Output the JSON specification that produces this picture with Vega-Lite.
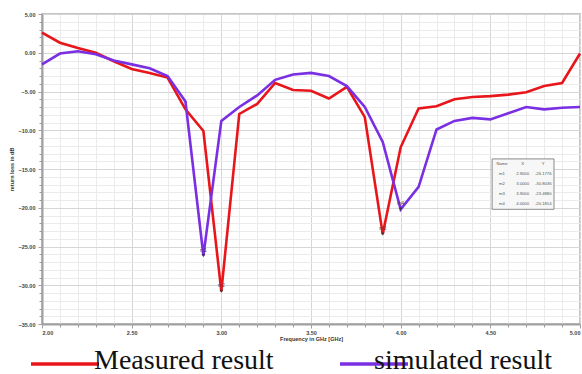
{
  "$schema": "https://vega.github.io/schema/vega-lite/v6.json",
  "width": 538,
  "height": 310,
  "autosize": {"type": "none"},
  "padding": {"left": 42, "top": 14, "right": 2, "bottom": 50},
  "background": "white",
  "config": {
    "view": {"stroke": "#c4c4c4", "strokeWidth": 2},
    "font": "Liberation Sans"
  },
  "datasets": {
    "curves": [
      {"f": 2.0, "dB": 2.6, "series": "Measured result"},
      {"f": 2.1, "dB": 1.3, "series": "Measured result"},
      {"f": 2.2, "dB": 0.6, "series": "Measured result"},
      {"f": 2.3, "dB": 0.0, "series": "Measured result"},
      {"f": 2.4, "dB": -1.1, "series": "Measured result"},
      {"f": 2.5, "dB": -2.1, "series": "Measured result"},
      {"f": 2.6, "dB": -2.6, "series": "Measured result"},
      {"f": 2.7, "dB": -3.2, "series": "Measured result"},
      {"f": 2.8, "dB": -7.3, "series": "Measured result"},
      {"f": 2.9, "dB": -10.1, "series": "Measured result"},
      {"f": 3.0, "dB": -30.8, "series": "Measured result"},
      {"f": 3.1, "dB": -7.9, "series": "Measured result"},
      {"f": 3.2, "dB": -6.6, "series": "Measured result"},
      {"f": 3.3, "dB": -3.9, "series": "Measured result"},
      {"f": 3.4, "dB": -4.8, "series": "Measured result"},
      {"f": 3.5, "dB": -4.9, "series": "Measured result"},
      {"f": 3.6, "dB": -5.9, "series": "Measured result"},
      {"f": 3.7, "dB": -4.4, "series": "Measured result"},
      {"f": 3.8, "dB": -8.3, "series": "Measured result"},
      {"f": 3.9, "dB": -23.4, "series": "Measured result"},
      {"f": 4.0, "dB": -12.2, "series": "Measured result"},
      {"f": 4.1, "dB": -7.2, "series": "Measured result"},
      {"f": 4.2, "dB": -6.9, "series": "Measured result"},
      {"f": 4.3, "dB": -6.0, "series": "Measured result"},
      {"f": 4.4, "dB": -5.7, "series": "Measured result"},
      {"f": 4.5, "dB": -5.6, "series": "Measured result"},
      {"f": 4.6, "dB": -5.4, "series": "Measured result"},
      {"f": 4.7, "dB": -5.1, "series": "Measured result"},
      {"f": 4.8, "dB": -4.3, "series": "Measured result"},
      {"f": 4.9, "dB": -3.9, "series": "Measured result"},
      {"f": 5.0, "dB": -0.1, "series": "Measured result"},
      {"f": 2.0, "dB": -1.5, "series": "simulated result"},
      {"f": 2.1, "dB": -0.1, "series": "simulated result"},
      {"f": 2.2, "dB": 0.2, "series": "simulated result"},
      {"f": 2.3, "dB": -0.2, "series": "simulated result"},
      {"f": 2.4, "dB": -1.0, "series": "simulated result"},
      {"f": 2.5, "dB": -1.5, "series": "simulated result"},
      {"f": 2.6, "dB": -2.0, "series": "simulated result"},
      {"f": 2.7, "dB": -3.0, "series": "simulated result"},
      {"f": 2.8, "dB": -6.3, "series": "simulated result"},
      {"f": 2.9, "dB": -26.18, "series": "simulated result"},
      {"f": 3.0, "dB": -8.8, "series": "simulated result"},
      {"f": 3.1, "dB": -7.0, "series": "simulated result"},
      {"f": 3.2, "dB": -5.5, "series": "simulated result"},
      {"f": 3.3, "dB": -3.5, "series": "simulated result"},
      {"f": 3.4, "dB": -2.8, "series": "simulated result"},
      {"f": 3.5, "dB": -2.6, "series": "simulated result"},
      {"f": 3.6, "dB": -3.0, "series": "simulated result"},
      {"f": 3.7, "dB": -4.3, "series": "simulated result"},
      {"f": 3.8, "dB": -7.0, "series": "simulated result"},
      {"f": 3.9, "dB": -11.5, "series": "simulated result"},
      {"f": 4.0, "dB": -20.2, "series": "simulated result"},
      {"f": 4.1, "dB": -17.3, "series": "simulated result"},
      {"f": 4.2, "dB": -9.9, "series": "simulated result"},
      {"f": 4.3, "dB": -8.8, "series": "simulated result"},
      {"f": 4.4, "dB": -8.4, "series": "simulated result"},
      {"f": 4.5, "dB": -8.6, "series": "simulated result"},
      {"f": 4.6, "dB": -7.8, "series": "simulated result"},
      {"f": 4.7, "dB": -7.0, "series": "simulated result"},
      {"f": 4.8, "dB": -7.3, "series": "simulated result"},
      {"f": 4.9, "dB": -7.1, "series": "simulated result"},
      {"f": 5.0, "dB": -7.0, "series": "simulated result"}
    ],
    "markers": [
      {"name": "m1", "f": 2.9, "dB": -26.1776},
      {"name": "m2", "f": 3.0, "dB": -30.8},
      {"name": "m3", "f": 3.9, "dB": -23.4},
      {"name": "m4", "f": 4.0, "dB": -20.19}
    ]
  },
  "layer": [
    {
      "data": {"name": "curves"},
      "mark": {"type": "line", "opacity": 0},
      "encoding": {
        "x": {
          "field": "f", "type": "quantitative",
          "scale": {"domain": [2, 5], "nice": false},
          "axis": {
            "orient": "bottom",
            "values": [2.0,2.1,2.2,2.3,2.4,2.5,2.6,2.7,2.8,2.9,3.0,3.1,3.2,3.3,3.4,3.5,3.6,3.7,3.8,3.9,4.0,4.1,4.2,4.3,4.4,4.5,4.6,4.7,4.8,4.9,5.0],
            "grid": true, "gridColor": "#ebebeb", "gridWidth": 1,
            "labels": false, "domain": false, "ticks": true, "tickSize": 3, "tickColor": "#9a9a9a", "title": null
          }
        },
        "y": {
          "field": "dB", "type": "quantitative",
          "scale": {"domain": [-35, 5], "nice": false, "zero": false},
          "axis": {
            "orient": "left",
            "values": [5,4,3,2,1,0,-1,-2,-3,-4,-5,-6,-7,-8,-9,-10,-11,-12,-13,-14,-15,-16,-17,-18,-19,-20,-21,-22,-23,-24,-25,-26,-27,-28,-29,-30,-31,-32,-33,-34,-35],
            "grid": true, "gridColor": "#ebebeb", "gridWidth": 1,
            "labels": false, "domain": false, "ticks": true, "tickSize": 3, "tickColor": "#9a9a9a", "title": null
          }
        },
        "detail": {"field": "series"}
      }
    },
    {
      "data": {"name": "curves"},
      "mark": {"type": "line", "strokeWidth": 2.6},
      "encoding": {
        "x": {
          "field": "f", "type": "quantitative",
          "scale": {"domain": [2, 5], "nice": false},
          "axis": {
            "orient": "bottom",
            "values": [2.0, 2.5, 3.0, 3.5, 4.0, 4.5, 5.0],
            "format": ".2f",
            "grid": true, "gridColor": "#d6d6d6", "gridWidth": 1,
            "domainColor": "#a0a0a0", "domainWidth": 2,
            "tickColor": "#a0a0a0", "tickSize": 4,
            "labelFontSize": 5.5, "labelFontWeight": "bold", "labelColor": "#444", "labelPadding": 2,
            "title": "Frequency in GHz [GHz]", "titleFontSize": 5.5, "titleFontWeight": "bold", "titleColor": "#333", "titlePadding": 1
          }
        },
        "y": {
          "field": "dB", "type": "quantitative",
          "scale": {"domain": [-35, 5], "nice": false, "zero": false},
          "axis": {
            "orient": "left",
            "values": [5, 0, -5, -10, -15, -20, -25, -30, -35],
            "format": ".2f",
            "grid": true, "gridColor": "#d6d6d6", "gridWidth": 1,
            "domainColor": "#a0a0a0", "domainWidth": 2,
            "tickColor": "#a0a0a0", "tickSize": 4,
            "labelFontSize": 5.5, "labelFontWeight": "bold", "labelColor": "#444", "labelPadding": 3,
            "title": "return loss in dB", "titleFontSize": 5.5, "titleFontWeight": "bold", "titleColor": "#333", "titlePadding": 4
          }
        },
        "color": {
          "field": "series", "type": "nominal",
          "scale": {"domain": ["Measured result", "simulated result"], "range": ["#e8161b", "#7a2fe2"]},
          "legend": {
            "orient": "none", "legendX": -13, "legendY": 314,
            "direction": "horizontal", "title": null,
            "symbolType": "stroke", "symbolSize": 4624, "symbolStrokeWidth": 3.5,
            "labelFont": "Liberation Serif", "labelFontSize": 28, "labelColor": "#111",
            "labelOffset": -7, "columnPadding": 59, "labelLimit": 400,
            "encode": {
              "labels": {
                "update": {
                  "dx": {"signal": "datum.index === 1 ? -29 : 0"},
                  "dy": {"value": -3}
                }
              }
            }
          }
        }
      }
    },
    {
      "data": {"name": "markers"},
      "mark": {"type": "point", "shape": "triangle-down", "size": 14, "filled": true, "color": "#333", "opacity": 0.8},
      "encoding": {
        "x": {"field": "f", "type": "quantitative", "axis": null},
        "y": {"field": "dB", "type": "quantitative", "axis": null}
      }
    },
    {
      "data": {"name": "markers"},
      "mark": {"type": "text", "fontSize": 5, "dx": 0, "dy": -6, "color": "#444"},
      "encoding": {
        "x": {"field": "f", "type": "quantitative", "axis": null},
        "y": {"field": "dB", "type": "quantitative", "axis": null},
        "text": {"field": "name"}
      }
    },
    {
      "data": {"values": [{}]},
      "mark": {"type": "rect", "fill": "#f7f7f7", "stroke": "#8a8a8a", "strokeWidth": 1},
      "encoding": {
        "x": {"datum": 4.51, "type": "quantitative", "axis": null},
        "x2": {"datum": 4.855},
        "y": {"datum": -13.7, "type": "quantitative", "axis": null},
        "y2": {"datum": -20.2}
      }
    },
    {
      "data": {"values": [{}]},
      "mark": {"type": "text", "fontSize": 4.2, "lineHeight": 10, "baseline": "top", "align": "center", "color": "#555",
               "text": ["Name", "m1", "m2", "m3", "m4"]},
      "encoding": {
        "x": {"datum": 4.565, "type": "quantitative", "axis": null},
        "y": {"datum": -14.05, "type": "quantitative", "axis": null}
      }
    },
    {
      "data": {"values": [{}]},
      "mark": {"type": "text", "fontSize": 4.2, "lineHeight": 10, "baseline": "top", "align": "center", "color": "#555",
               "text": ["X", "2.9000", "3.0000", "3.9000", "4.0000"]},
      "encoding": {
        "x": {"datum": 4.68, "type": "quantitative", "axis": null},
        "y": {"datum": -14.05, "type": "quantitative", "axis": null}
      }
    },
    {
      "data": {"values": [{}]},
      "mark": {"type": "text", "fontSize": 4.2, "lineHeight": 10, "baseline": "top", "align": "center", "color": "#555",
               "text": ["Y", "-26.1776", "-30.8036", "-23.4880", "-20.1814"]},
      "encoding": {
        "x": {"datum": 4.795, "type": "quantitative", "axis": null},
        "y": {"datum": -14.05, "type": "quantitative", "axis": null}
      }
    }
  ],
  "resolve": {"axis": {"x": "independent", "y": "independent"}}
}
